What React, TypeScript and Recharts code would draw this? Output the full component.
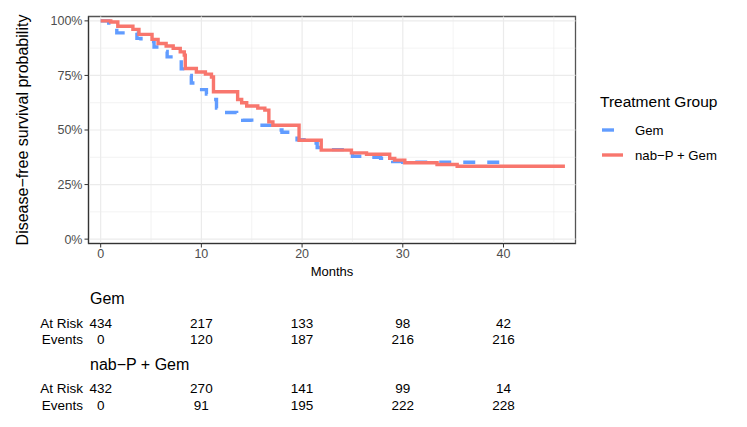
import React from 'react';
import {
  LineChart, Line, XAxis, YAxis, ReferenceLine, ReferenceArea,
  ScatterChart, Scatter,
} from 'recharts';

// Kaplan-Meier step points (months, survival)
const gemTime = [0, 0.8, 1.6, 3.6, 4.0, 5.3, 5.8, 6.6, 7.5, 8.0, 8.3, 9.0, 9.4, 10.5, 10.9, 11.5, 12.0, 13.5, 14.1, 15.0, 17.0, 18.0, 19.3, 19.5, 20.6, 21.5, 22.3, 24.4, 25.0, 26.7, 27.8, 29.0, 30.0, 40.0];
const gemSurv = [1.0, 0.99, 0.945, 0.92, 0.905, 0.88, 0.86, 0.835, 0.82, 0.78, 0.75, 0.715, 0.685, 0.665, 0.64, 0.6, 0.58, 0.565, 0.545, 0.522, 0.5, 0.49, 0.48, 0.455, 0.44, 0.42, 0.41, 0.395, 0.38, 0.375, 0.37, 0.355, 0.352, 0.352];

const nabTime = [0, 1.0, 1.7, 3.2, 3.8, 5.1, 5.7, 6.5, 7.2, 7.9, 8.3, 8.4, 9.5, 10.4, 11.0, 11.2, 13.6, 14.0, 14.5, 15.6, 16.3, 16.7, 17.1, 19.7, 21.9, 24.9, 26.4, 28.7, 29.2, 30.2, 33.4, 35.4, 46.1];
const nabSurv = [1.0, 0.995, 0.975, 0.961, 0.938, 0.915, 0.896, 0.885, 0.874, 0.858, 0.843, 0.782, 0.766, 0.756, 0.743, 0.675, 0.64, 0.625, 0.61, 0.6, 0.591, 0.537, 0.522, 0.453, 0.408, 0.395, 0.389, 0.37, 0.362, 0.35, 0.342, 0.334, 0.334];

// risk table
const riskTimes = [0, 10, 20, 30, 40];
const gemAtRisk = [434, 217, 133, 98, 42];
const gemEvents = [0, 120, 187, 216, 216];
const nabAtRisk = [432, 270, 141, 99, 14];
const nabEvents = [0, 91, 195, 222, 228];

const xTicks = [0, 10, 20, 30, 40];
const xMinor = [5, 15, 25, 35, 45];
const yTicks = [0, 0.25, 0.5, 0.75, 1];
const yMinor = [0.125, 0.375, 0.625, 0.875];

const X_DOMAIN: [number, number] = [-1.21, 47.15];
const Y_DOMAIN: [number, number] = [-0.02, 1.02];
const FONT = '"Liberation Sans", Arial, Helvetica, sans-serif';
const BLUE = '#619CFF';
const RED = '#F8766D';
const MARGIN_L = 88.5;
const MARGIN_R = 171.5;
const TABLE_FS = 13.5;

const gemData = gemTime.map((t, i) => ({ t, s: gemSurv[i] }));
const nabData = nabTime.map((t, i) => ({ t, s: nabSurv[i] }));

function RiskRow({ values, top }: { values: number[]; top: number }) {
  const data = riskTimes.map((t, i) => ({ t, y: 0.5, v: values[i] }));
  return (
    <div style={{ position: 'absolute', left: 0, top }}>
      <ScatterChart width={747} height={18} margin={{ top: 0, right: MARGIN_R, bottom: 0, left: MARGIN_L }}>
        <XAxis type="number" dataKey="t" domain={X_DOMAIN} hide allowDataOverflow />
        <YAxis type="number" dataKey="y" domain={[0, 1]} hide />
        <Scatter
          data={data}
          isAnimationActive={false}
          shape={(p: any) => (
            <text x={p.cx} y={p.cy} textAnchor="middle" dominantBaseline="central"
              fontSize={TABLE_FS} fill="#000">{p.payload.v}</text>
          )}
        />
      </ScatterChart>
    </div>
  );
}

export default function App() {
  const tickStyle = { fill: '#4D4D4D', fontSize: 12.5 };
  return (
    <div style={{ position: 'absolute', left: 0, top: 0, width: 747, height: 427, background: '#fff', fontFamily: FONT }}>
      <LineChart width={747} height={285} margin={{ top: 16.5, right: MARGIN_R, bottom: 1.5, left: MARGIN_L - 40 }}>
        {xMinor.map((v) => <ReferenceLine key={'xm' + v} x={v} stroke="#EBEBEB" strokeWidth={0.6} />)}
        {yMinor.map((v) => <ReferenceLine key={'ym' + v} y={v} stroke="#EBEBEB" strokeWidth={0.6} />)}
        {xTicks.map((v) => <ReferenceLine key={'xM' + v} x={v} stroke="#EBEBEB" strokeWidth={1.2} />)}
        {yTicks.map((v) => <ReferenceLine key={'yM' + v} y={v} stroke="#EBEBEB" strokeWidth={1.2} />)}
        <XAxis
          type="number" dataKey="t" domain={X_DOMAIN} ticks={xTicks} allowDataOverflow
          height={40} tick={tickStyle} tickSize={4} tickMargin={2}
          tickLine={{ stroke: '#333' }} axisLine={{ stroke: '#333', strokeWidth: 1.2 }}
          label={{ value: 'Months', position: 'insideBottom', offset: 8, fill: '#000', fontSize: 13 }}
        />
        <YAxis
          type="number" domain={Y_DOMAIN} ticks={yTicks} allowDataOverflow width={40}
          tick={tickStyle} tickSize={4} tickMargin={2}
          tickFormatter={(v: number) => `${Math.round(v * 100)}%`}
          tickLine={{ stroke: '#333' }} axisLine={{ stroke: '#333', strokeWidth: 1.2 }}
        />
        <ReferenceArea x1={X_DOMAIN[0]} x2={X_DOMAIN[1]} y1={Y_DOMAIN[0]} y2={Y_DOMAIN[1]}
          fill="none" fillOpacity={0} stroke="#555" strokeWidth={1.3} />
        <Line data={gemData} dataKey="s" type="stepAfter" stroke={BLUE} strokeWidth={3.4}
          strokeDasharray="12 12" dot={false} activeDot={false} isAnimationActive={false} />
        <Line data={nabData} dataKey="s" type="stepAfter" stroke={RED} strokeWidth={3.4}
          dot={false} activeDot={false} isAnimationActive={false} />
      </LineChart>

      <RiskRow values={gemAtRisk} top={323 - 9} />
      <RiskRow values={gemEvents} top={339 - 9} />
      <RiskRow values={nabAtRisk} top={388 - 9} />
      <RiskRow values={nabEvents} top={405 - 9} />

      <svg width={747} height={427} style={{ position: 'absolute', left: 0, top: 0, pointerEvents: 'none' }}
        fontFamily={FONT}>
        <text x={22} y={130} transform="rotate(-90 22 130)" textAnchor="middle" dominantBaseline="central"
          fontSize={16} fill="#000">Disease−free survival probability</text>

        <text x={600} y={101} dominantBaseline="central" fontSize={15.5} fill="#000">Treatment Group</text>
        <line x1={602} x2={623} y1={130} y2={130} stroke={BLUE} strokeWidth={3.4} strokeDasharray="12 12" />
        <text x={635} y={130} dominantBaseline="central" fontSize={13.2} fill="#000">Gem</text>
        <line x1={602} x2={623} y1={155} y2={155} stroke={RED} strokeWidth={3.4} />
        <text x={635} y={155} dominantBaseline="central" fontSize={13.2} fill="#000">nab−P + Gem</text>

        <text x={90} y={298} dominantBaseline="central" fontSize={16} fill="#000">Gem</text>
        <text x={83} y={323} textAnchor="end" dominantBaseline="central" fontSize={TABLE_FS} fill="#000">At Risk</text>
        <text x={83} y={339} textAnchor="end" dominantBaseline="central" fontSize={TABLE_FS} fill="#000">Events</text>
        <text x={90} y={364} dominantBaseline="central" fontSize={16} fill="#000">nab−P + Gem</text>
        <text x={83} y={388} textAnchor="end" dominantBaseline="central" fontSize={TABLE_FS} fill="#000">At Risk</text>
        <text x={83} y={405} textAnchor="end" dominantBaseline="central" fontSize={TABLE_FS} fill="#000">Events</text>
      </svg>
    </div>
  );
}
